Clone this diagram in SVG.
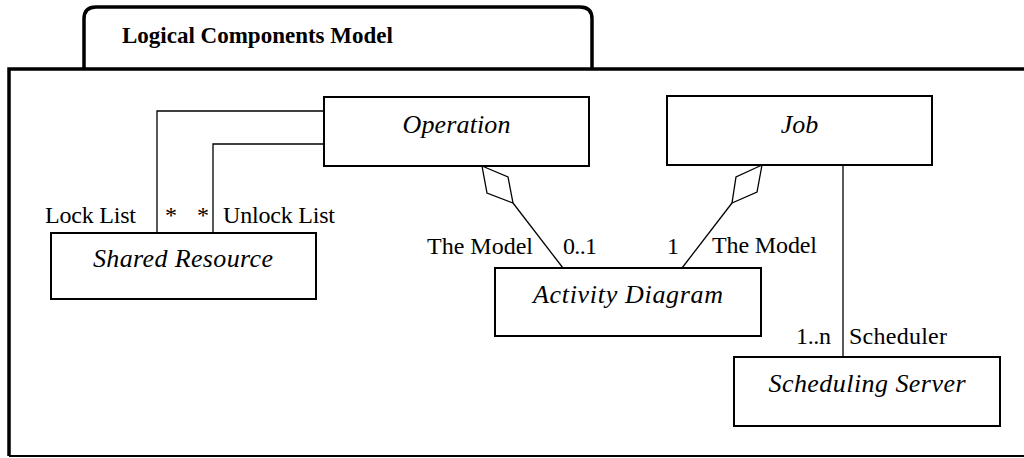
<svg xmlns="http://www.w3.org/2000/svg" width="1024" height="458" viewBox="0 0 1024 458">
<style>
.frame{fill:none;stroke:#000;stroke-width:3.5}
.box{fill:#fff;stroke:#000;stroke-width:2}
.conn{fill:none;stroke:#000;stroke-width:1.3}
.dia{fill:#fff;stroke:#000;stroke-width:1.3}
text{font-family:'Liberation Serif','Times New Roman',Times,'DejaVu Serif',serif;fill:#000}
.name{font-style:italic;font-size:26px}
.lbl{font-size:24px}
.title{font-weight:bold;font-size:23px}
</style>
<rect width="1024" height="458" fill="#fff"/>
<g id="package">
<path class="frame" d="M84,69 V19 Q84,7 96,7 H580 Q592,7 592,19 V69"/>
<path class="frame" d="M1026,69 H9 V456"/>
<line x1="9" y1="456" x2="1026" y2="456" stroke="#000" stroke-width="2"/>
<text class="title" x="122" y="43">Logical Components Model</text>
</g>
<g id="connectors">
<polyline class="conn" points="324,111 157,111 157,233"/>
<polyline class="conn" points="324,144 213,144 213,233"/>
<line class="conn" x1="513" y1="203" x2="563" y2="268"/>
<polygon class="dia" points="482,166 508,177 513,203 487,193"/>
<line class="conn" x1="732" y1="203" x2="682" y2="268"/>
<polygon class="dia" points="762,165 757,192 732,203 736,177"/>
<line class="conn" x1="843" y1="165" x2="843" y2="357"/>
<text class="lbl" x="45" y="223" textLength="91">Lock List</text>
<text class="lbl" x="165" y="223">*</text>
<text class="lbl" x="197" y="223">*</text>
<text class="lbl" x="223" y="223" textLength="112">Unlock List</text>
<text class="lbl" x="427" y="254" textLength="106">The Model</text>
<text class="lbl" x="563" y="254" textLength="34">0..1</text>
<text class="lbl" x="667" y="254">1</text>
<text class="lbl" x="712" y="253" textLength="105">The Model</text>
<text class="lbl" x="796" y="344" textLength="35">1..n</text>
<text class="lbl" x="849" y="344" textLength="98">Scheduler</text>
</g>
<g id="operation">
<rect class="box" x="324" y="97" width="265" height="69"/>
<text class="name" x="456.5" y="133" text-anchor="middle" textLength="108">Operation</text>
</g>
<g id="job">
<rect class="box" x="667" y="96" width="265" height="69"/>
<text class="name" x="799.5" y="133" text-anchor="middle">Job</text>
</g>
<g id="shared-resource">
<rect class="box" x="51" y="233" width="265" height="66"/>
<text class="name" x="183" y="267" text-anchor="middle" textLength="180">Shared Resource</text>
</g>
<g id="activity-diagram">
<rect class="box" x="495" y="268" width="266" height="68"/>
<text class="name" x="628" y="303" text-anchor="middle" textLength="190">Activity Diagram</text>
</g>
<g id="scheduling-server">
<rect class="box" x="734" y="357" width="266" height="69"/>
<text class="name" x="867" y="392" text-anchor="middle" textLength="197">Scheduling Server</text>
</g>
</svg>
